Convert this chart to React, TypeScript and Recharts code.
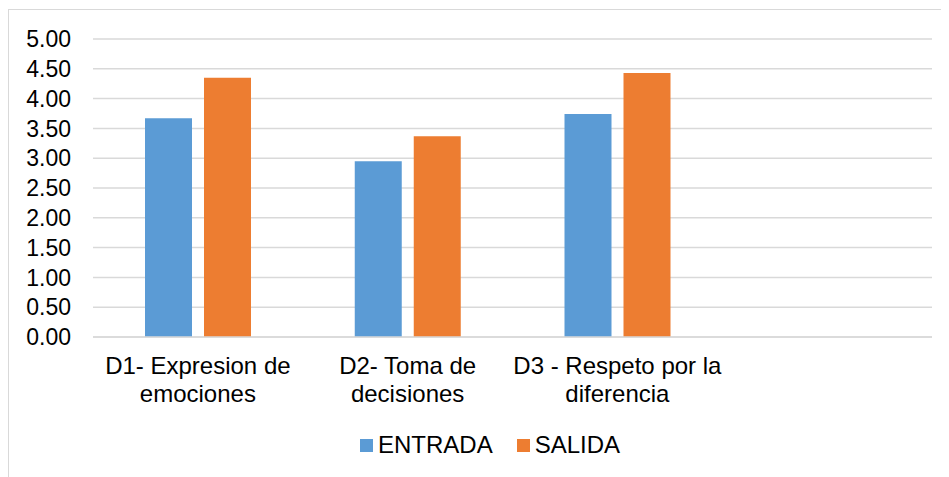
import { Bar, BarChart, CartesianGrid, Legend, XAxis, YAxis } from "recharts";

const categories = [
  "D1- Expresion de emociones",
  "D2- Toma de decisiones",
  "D3 - Respeto por la diferencia",
  "",
];
const categoryLines = [
  ["D1- Expresion de", "emociones"],
  ["D2- Toma de", "decisiones"],
  ["D3 - Respeto por la", "diferencia"],
  [],
];
const entrada = [3.67, 2.95, 3.74, null];
const salida = [4.35, 3.37, 4.43, null];
const yTicks = [0, 0.5, 1, 1.5, 2, 2.5, 3, 3.5, 4, 4.5, 5];

const FONT = "'Liberation Sans', Arial, sans-serif";
const BLUE = "#5B9BD5";
const ORANGE = "#ED7D31";
const GRID = "#d9d9d9";

const data = categories.map((name, i) => ({
  name,
  ENTRADA: entrada[i],
  SALIDA: salida[i],
}));

function CategoryTick(props: any) {
  const { x, y, payload } = props;
  const lines = categoryLines[payload.index] || [];
  return (
    <text x={x} y={y} textAnchor="middle" fill="#000" fontSize={24} fontFamily={FONT}>
      {lines.map((line, i) => (
        <tspan key={i} x={x} dy={i === 0 ? 37 : 28}>
          {line}
        </tspan>
      ))}
    </text>
  );
}

function LegendContent(props: any) {
  const items = props.payload || [];
  return (
    <div style={{ display: "flex", alignItems: "center", height: 28, fontFamily: FONT, fontSize: 24, color: "#000" }}>
      {items.map((item: any, i: number) => (
        <div key={item.value} style={{ display: "flex", alignItems: "center", marginLeft: i === 0 ? 0 : 24 }}>
          <span style={{ width: 13, height: 13, background: item.color, marginRight: 5, display: "inline-block" }} />
          <span>{item.value}</span>
        </div>
      ))}
    </div>
  );
}

export default function App() {
  return (
    <div
      style={{
        marginTop: 1,
        width: 940,
        borderTop: `1px solid ${GRID}`,
        borderLeft: `1px solid ${GRID}`,
        background: "#fff",
      }}
    >
      <BarChart
        width={940}
        height={467}
        data={data}
        margin={{ top: 29, right: 17, left: 0, bottom: 18 }}
        barSize={47}
        barGap={12}
      >
        <CartesianGrid vertical={false} stroke={GRID} strokeWidth={1.5} />
        <XAxis
          dataKey="name"
          height={94}
          axisLine={{ stroke: GRID, strokeWidth: 1.5 }}
          tickLine={false}
          tickSize={0}
          tickMargin={0}
          interval={0}
          tick={<CategoryTick />}
        />
        <YAxis
          width={84}
          domain={[0, 5]}
          ticks={yTicks}
          interval={0}
          axisLine={false}
          tickLine={false}
          tickSize={0}
          tickMargin={22}
          tickFormatter={(v: number) => v.toFixed(2)}
          tick={{ fill: "#000", fontSize: 23, fontFamily: FONT }}
        />
        <Legend
          content={<LegendContent />}
          height={28}
          wrapperStyle={{ left: 351, width: 320 }}
        />
        <Bar dataKey="ENTRADA" fill={BLUE} isAnimationActive={false} />
        <Bar dataKey="SALIDA" fill={ORANGE} isAnimationActive={false} />
      </BarChart>
    </div>
  );
}
